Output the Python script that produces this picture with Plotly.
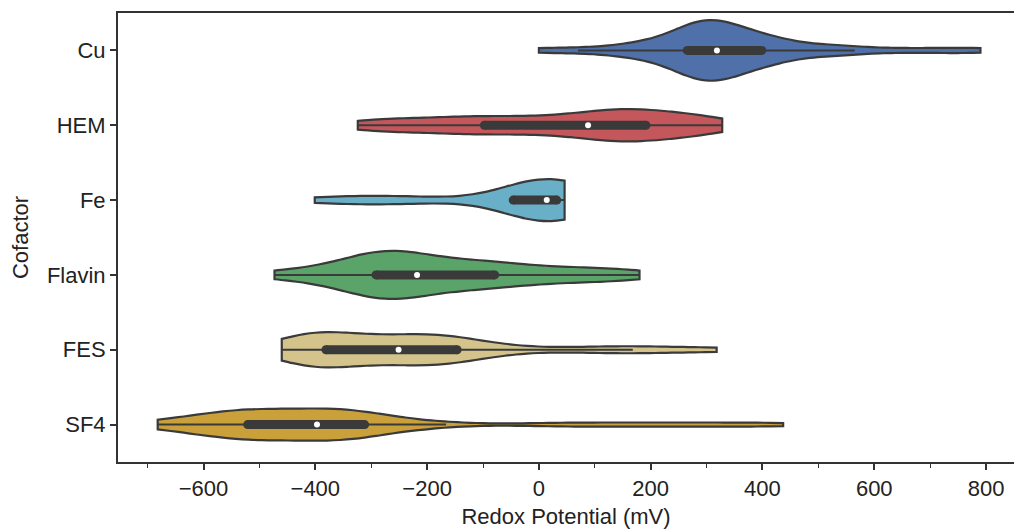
import numpy as np
import plotly.graph_objects as go

categories = ["Cu", "HEM", "Fe", "Flavin", "FES", "SF4"]

cu = [0, 70, 130, 160, 185,
      205, 222, 236, 248, 257, 264, 270, 276, 282, 288, 293, 298, 303, 308, 312,
      316, 321, 327, 334, 340, 347, 355, 364, 373, 383, 392, 401, 413, 428, 446,
      468, 498,
      535, 565, 640, 720, 790]
hem = [-324, -290, -255, -220, -190, -160, -130, -105, -90, -60, -30, -5, 20, 45,
       65, 88, 105, 118, 130, 142, 155, 168, 185, 198, 210, 226, 245, 265, 285, 305, 328]
fe = [-401, -370, -340, -310, -280, -250, -220, -190,
      -52, -46, -38, -30, -22, -14, -7, 0, 5, 10, 14, 17, 20, 22, 24, 26, 28, 29,
      31, 32, 34, 35, 37, 38, 40, 41, 43, 44, 46]
flavin = [-473, -440, -400, -370, -350, -335, -322, -312, -303, -296,
          -290, -284, -277, -270, -262, -254, -246, -238, -229, -221,
          -215, -200, -185, -170, -155, -140, -125, -110, -95, -82,
          -70, -50, -25, 0, 25, 55, 85, 115, 150, 180]
fes = [-460, -450, -438, -425, -412, -402, -395, -388, -384,
       -380, -365, -350, -335, -320, -305, -290, -275, -258,
       -244, -232, -220, -208, -195, -182, -170, -158, -150,
       -135, -115, -90, -40, 50, 130, 168, 240, 318]
sf4 = [-682, -650, -625, -605, -588, -573, -560, -549, -539, -530, -523, -515,
       -505, -495, -484, -472, -460, -447, -434, -420, -405, -389,
       -380, -371, -362, -355, -348, -341, -334, -327, -320, -309,
       -285, -255, -215, -166,
       10, 95, 180, 265, 350, 437]

series = [cu, hem, fe, flavin, fes, sf4]
colors = ["#4F70A8", "#C4575C", "#6AAFC8", "#5AA46A", "#D4C48C", "#C9A03A"]
widths = [0.81, 0.43, 0.56, 0.64, 0.47, 0.43]
bandwidths = [42, 55, 72, 60, 60, 70]

GRAY = "#3A3A3A"
fig = go.Figure()

for cat, vals, col, w, bw in zip(categories, series, colors, widths, bandwidths):
    fig.add_trace(go.Violin(
        x=vals, y=[cat] * len(vals), orientation="h", name=cat,
        fillcolor=col, line=dict(color=GRAY, width=2.2), opacity=1,
        spanmode="hard", scalemode="width", width=w, bandwidth=bw,
        points=False, box_visible=False, meanline_visible=False,
        hoveron="violins", showlegend=False,
    ))

for cat, vals in zip(categories, series):
    a = np.asarray(vals, dtype=float)
    q1, med, q3 = np.percentile(a, [25, 50, 75])
    iqr = q3 - q1
    lo = a[a >= q1 - 1.5 * iqr].min()
    hi = a[a <= q3 + 1.5 * iqr].max()
    fig.add_trace(go.Scatter(x=[lo, hi], y=[cat, cat], mode="lines",
                             line=dict(color=GRAY, width=2), showlegend=False,
                             hoverinfo="skip"))
    fig.add_trace(go.Scatter(x=[q1, q3], y=[cat, cat], mode="lines+markers",
                             line=dict(color=GRAY, width=9),
                             marker=dict(color=GRAY, size=9, line=dict(width=0)),
                             showlegend=False, hoverinfo="skip"))
    fig.add_trace(go.Scatter(x=[med], y=[cat], mode="markers",
                             marker=dict(color="white", size=6, line=dict(width=0)),
                             showlegend=False, hoverinfo="skip"))

font = dict(family="Liberation Sans, Arial, sans-serif", size=22, color="#222222")

fig.update_layout(
    width=1014, height=529,
    margin=dict(l=118, r=0, t=13, b=67),
    paper_bgcolor="white", plot_bgcolor="white",
    font=font,
    violingap=0, violinmode="overlay",
)
fig.update_xaxes(
    range=[-753, 850], tickvals=[-600, -400, -200, 0, 200, 400, 600, 800],
    ticks="outside", ticklen=6, tickwidth=1.5, tickcolor="#333333",
    showline=True, linecolor="#333333", linewidth=2, mirror=True,
    showgrid=False, zeroline=False,
    minor=dict(ticks="outside", ticklen=4, tickwidth=1.2, tickcolor="#333333",
               tickvals=[-700, -500, -300, -100, 100, 300, 500, 700], showgrid=False),
    title=dict(text="Redox Potential (mV)", font=font, standoff=9),
    tickfont=font,
)
fig.update_yaxes(
    type="category", categoryorder="array", categoryarray=categories,
    range=[5.5, -0.5],
    ticks="outside", ticklen=6, tickwidth=1.5, tickcolor="#333333",
    showline=True, linecolor="#333333", linewidth=2, mirror=False,
    showgrid=False, zeroline=False,
    title=dict(text="Cofactor", font=font, standoff=12),
    tickfont=font,
)

fig.write_html("out.html")
